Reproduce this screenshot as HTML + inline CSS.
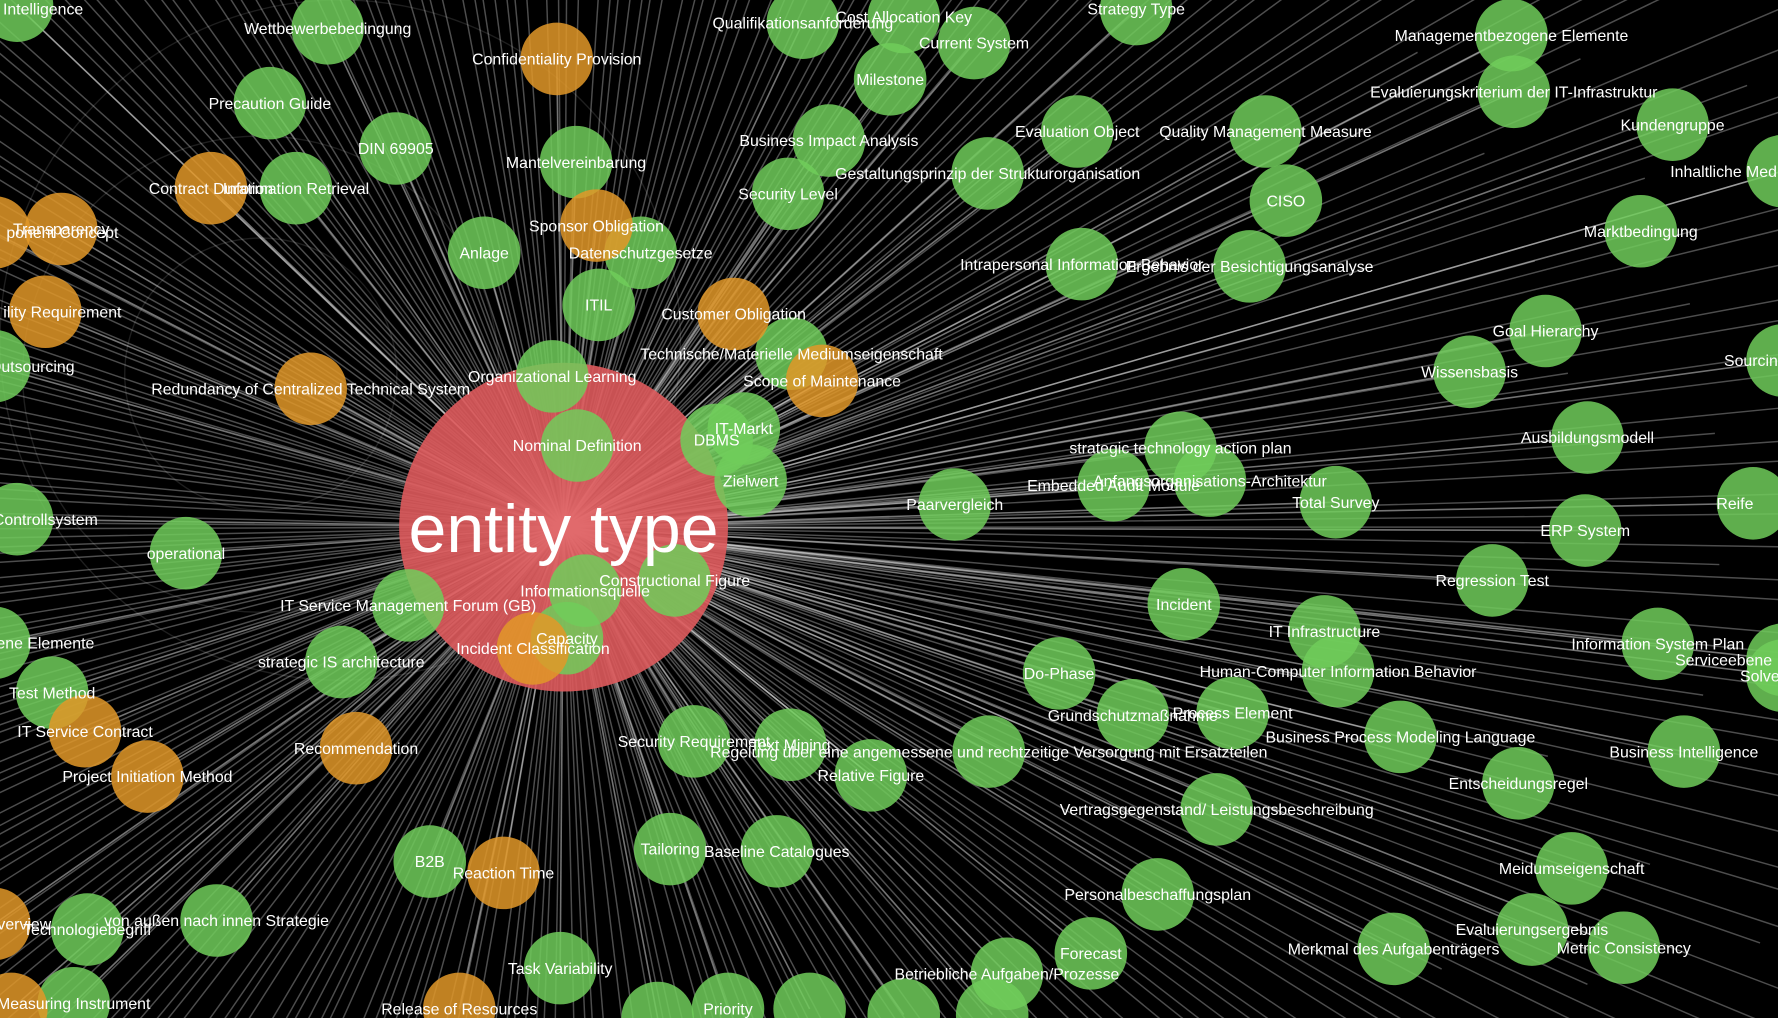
<!DOCTYPE html>
<html><head><meta charset="utf-8"><style>
html,body{margin:0;padding:0;background:#000;width:1778px;height:1018px;overflow:hidden;position:relative}
svg{display:block;position:absolute;left:0;top:0}
text{font-family:"Liberation Sans",sans-serif;fill:#fff}
</style></head><body>
<svg id="graph" width="1778" height="1018" viewBox="0 0 1568 898" preserveAspectRatio="none" xmlns="http://www.w3.org/2000/svg">
<rect width="1568" height="898" fill="#000"/>
<g id="bg" fill="none" stroke="rgba(255,255,255,0.12)" stroke-width="1.2">
<circle cx="230" cy="330" r="120"/><circle cx="230" cy="330" r="210"/><circle cx="300" cy="300" r="300"/>
</g>
<g id="edges"></g>
<g id="nodes"></g>
<g id="labels"></g>
</svg>
<script>
const hubLabel = "entity type";
const hubX = 497, hubY = 465, hubR = 145;
const nodeLabels = ["Intelligence","Wettbewerbebedingung","Precaution Guide","DIN 69905","Information Retrieval","Mantelvereinbarung","Anlage","Datenschutzgesetze","ITIL","Organizational Learning","Nominal Definition","DBMS","IT-Markt","Zielwert","Technische/Materielle Mediumseigenschaft","Qualifikationsanforderung","Cost Allocation Key","Current System","Milestone","Business Impact Analysis","Security Level","Gestaltungsprinzip der Strukturorganisation","Strategy Type","Evaluation Object","Quality Management Measure","CISO","Intrapersonal Information Behavior","Ergebnis der Besichtigungsanalyse","Managementbezogene Elemente","Evaluierungskriterium der IT-Infrastruktur","Kundengruppe","Inhaltliche Med","Marktbedingung","Goal Hierarchy","Wissensbasis","Sourcing","Ausbildungsmodell","Reife","ERP System","strategic technology action plan","Embedded Audit Module","Anfangsorganisations-Architektur","Total Survey","Paarvergleich","Regression Test","Incident","IT Infrastructure","Human-Computer Information Behavior","Information System Plan","Serviceebene","Solve","Do-Phase","Grundschutzmaßnahme","Process Element","Business Process Modeling Language","Business Intelligence","Entscheidungsregel","Regelung über eine angemessene und rechtzeitige Versorgung mit Ersatzteilen","Relative Figure","Text Mining","Security Requirement","Vertragsgegenstand/ Leistungsbeschreibung","Meidumseigenschaft","Personalbeschaffungsplan","Evaluierungsergebnis","Metric Consistency","Merkmal des Aufgabenträgers","Forecast","Betriebliche Aufgaben/Prozesse","Tailoring","Baseline Catalogues","Task Variability","Priority","B2B","von außen nach innen Strategie","Technologiebegriff","Measuring Instrument","operational","Controllsystem","IT Service Management Forum (GB)","strategic IS architecture","Informationsquelle","Constructional Figure","Capacity","ene Elemente","Test Method","Outsourcing","","","","",
"Confidentiality Provision","Contract Duration","Transparency","ponent Concept","ility Requirement","Redundancy of Centralized Technical System","Sponsor Obligation","Customer Obligation","Scope of Maintenance","Incident Classification","Recommendation","IT Service Contract","Project Initiation Method","Reaction Time","Release of Resources","Overview",""];
const nodeX = [15,289,238,349,261,508,427,565,528,487,509,632,656,662,698,708,797,859,785,731,695,871,1002,950,1116,1134,954,1102,1333,1335,1475,1572,1447,1363,1296,1572,1400,1546,1398,1041,982,1067,1178,842,1316,1044,1168,1180,1462,1572,1572,934,999,1087,1235,1485,1339,872,768,697,612,1073,1386,1021,1351,1432,1229,962,888,591,685,494,642,379,191,77,65,164,15,360,301,516,595,500,-5,46,-5,580,714,797,875,
491,186,54,-5,40,274,526,647,725,470,314,75,130,444,405,-5,10];
const nodeY = [5,25,91,131,166,143,223,223,269,332,393,388,378,424,312,20,15,38,70,124,171,153,8,116,116,177,233,235,31,81,110,151,204,292,328,318,386,444,468,395,428,424,443,445,512,533,557,592,568,582,596,594,631,629,650,663,691,663,684,657,654,714,766,789,820,836,837,841,859,749,751,854,890,760,812,820,885,488,458,534,584,521,512,563,567,611,323,898,890,895,895,
52,166,202,205,275,343,199,277,336,572,660,645,685,770,890,815,890];
const nodeKinds = nodeLabels.map((_, i) => i >= 91 ? "orange" : "green");
const labelPos = {0:[38,8],31:[1520,151],35:[1548,318],37:[1530,444],49:[1520,582],50:[1552,596],84:[40,567],86:[28,323],78:[40,458],94:[55,205],95:[55,275],106:[16,815]};

const NS = "http://www.w3.org/2000/svg";
const edges = document.getElementById("edges");
const nodesG = document.getElementById("nodes");
const labelsG = document.getElementById("labels");

for (let i = 0; i < 320; i++) {
  const a = i * 2.39996;
  const d = 900 + (i % 7) * 120;
  const l = document.createElementNS(NS, "line");
  l.setAttribute("x1", hubX); l.setAttribute("y1", hubY);
  l.setAttribute("x2", hubX + Math.cos(a) * d); l.setAttribute("y2", hubY + Math.sin(a) * d * 0.85);
  l.setAttribute("stroke", "rgba(255,255,255,0.3)"); l.setAttribute("stroke-width", "1.3");
  
  
  edges.appendChild(l);
}
nodeLabels.forEach((lab, i) => {
  const l = document.createElementNS(NS, "line");
  l.setAttribute("x1", hubX); l.setAttribute("y1", hubY);
  l.setAttribute("x2", nodeX[i]); l.setAttribute("y2", nodeY[i]);
  l.setAttribute("stroke", "rgba(255,255,255,0.45)"); l.setAttribute("stroke-width", "1.4");
  
  
  edges.appendChild(l);
});

const hub = document.createElementNS(NS, "circle");
hub.setAttribute("cx", hubX); hub.setAttribute("cy", hubY); hub.setAttribute("r", hubR);
hub.setAttribute("fill", "rgba(222,90,92,0.9)");


nodesG.appendChild(hub);

nodeLabels.forEach((lab, i) => {
  const c = document.createElementNS(NS, "circle");
  c.setAttribute("cx", nodeX[i]); c.setAttribute("cy", nodeY[i]); c.setAttribute("r", 32);
  c.setAttribute("fill", nodeKinds[i] === "orange" ? "rgba(226,152,40,0.85)" : "rgba(112,205,90,0.85)");
  
  
  nodesG.appendChild(c);
  if (lab) {
    const p = labelPos[i] || [nodeX[i], nodeY[i]];
    const t = document.createElementNS(NS, "text");
    t.setAttribute("x", p[0]); t.setAttribute("y", p[1] + 5);
    t.setAttribute("text-anchor", "middle"); t.setAttribute("font-size", "14");
    t.textContent = lab;
    
    
    labelsG.appendChild(t);
  }
});
const ht = document.createElementNS(NS, "text");
ht.setAttribute("x", hubX); ht.setAttribute("y", hubY + 22);
ht.setAttribute("text-anchor", "middle"); ht.setAttribute("font-size", "60");
ht.textContent = hubLabel;


labelsG.appendChild(ht);
</script>
</body></html>
